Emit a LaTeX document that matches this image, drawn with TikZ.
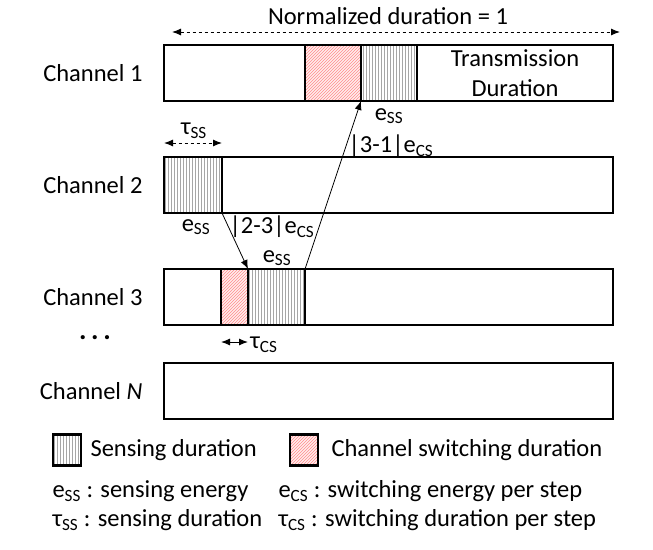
\documentclass[tikz,border=0pt]{standalone}
\usepackage{fontspec}
\setmainfont{Carlito}
\usetikzlibrary{arrows.meta,positioning,patterns}
\newcommand{\chsub}[1]{\textsubscript{#1}}
\tikzset{
  chanbar/.style={draw, line width=2.5pt, rectangle, inner sep=0pt, outer sep=0pt,
    minimum width=449pt, minimum height=56pt, anchor=west},
  sensebox/.style={draw, line width=2.5pt, rectangle, inner sep=0pt, outer sep=0pt,
    minimum height=56pt, anchor=north west, preaction={fill=white},
    pattern=vertical lines, pattern color=gray!70},
  switchbox/.style={draw, line width=2.5pt, rectangle, inner sep=0pt, outer sep=0pt,
    minimum height=56pt, anchor=north west, preaction={fill=red!7},
    pattern=north east lines, pattern color=red!45},
  chanlabel/.style={left=18pt of #1},
  link/.style={->, line width=0.8pt},
  span/.style={<->, line width=1pt}
}

\begin{document}
\begin{tikzpicture}[x=1pt, y=-1pt, >={Latex[length=9pt,width=7pt]},
  font=\fontsize{24.5}{30}\selectfont]
	\useasboundingbox (0,0) rectangle (653,549);
	% channel bars
	\node [chanbar] (ch1) at (164,73) {};
	\node [chanbar] (ch2) at (164,185) {};
	\node [chanbar] (ch3) at (164,297) {};
	\node [chanbar] (chN) at (164,391) {};
	\node [chanlabel=ch1] (lab1) {Channel 1};
	\node [chanlabel=ch2] (lab2) {Channel 2};
	\node [chanlabel=ch3] (lab3) {Channel 3};
	\node [chanlabel=chN] (labN) {Channel \textit{N}};
	\node (dots) at (95,338) {\bfseries\fontsize{28}{28}\selectfont.\,.\,.};
	
	% sensing and switching slots
	\node [switchbox, minimum width=56pt] (sw1) at (305,45) {};
	\node [sensebox, minimum width=56pt] (se1) at (361,45) {};
	\node [sensebox, minimum width=58pt] (se2) at (164,157) {};
	\node [switchbox, minimum width=27pt] (sw3) at (221,269) {};
	\node [sensebox, minimum width=57pt] (se3) at (248,269) {};
	\node [align=center] (tx1) at (515,73) {Transmission\\Duration};
	
	% durations
	\node (norm) at (388,16) {Normalized duration = 1};
	\draw [span, dashed] ([shift={(8pt,41pt)}]ch1.west) -- ([shift={(7pt,41pt)}]ch1.east);
	\node (tss) at (194,131) {τ\chsub{SS}};
	\draw [span, dashed] ([yshift=14pt]se2.north west) -- ([yshift=14pt]se2.north east);
	\node (tcs) at (264,345) {τ\chsub{CS}};
	\draw [span] ([yshift=-17pt]sw3.south west) -- ([yshift=-17pt]sw3.south east);
	
	% energies and switching path
	\node (ess1) at (389,116) {e\chsub{SS}};
	\node (cs31) at (391,146) {|3-1|e\chsub{CS}};
	\node (ess2) at (196,227) {e\chsub{SS}};
	\node (cs23) at (272,227) {|2-3|e\chsub{CS}};
	\node (ess3) at (277,258) {e\chsub{SS}};
	\draw [link] (se2.south east) -- (sw3.north east);
	\draw [link] (se3.north east) -- (sw1.south east);
	
	% legend
	\node [sensebox, minimum width=28pt, minimum height=31pt, anchor=center] (legS) at (67,450) {};
	\node [right=6pt of legS] (legStx) {Sensing duration};
	\node [switchbox, minimum width=28pt, minimum height=31pt, anchor=center] (legW) at (304,450) {};
	\node [right=10pt of legW] (legWtx) {Channel switching duration};
	\node [anchor=west] (essdef) at (49,491) {e\chsub{SS} : sensing energy};
	\node [anchor=west] (tssdef) at (49,520) {τ\chsub{SS} : sensing duration};
	\node [anchor=west] (ecsdef) at (275,491) {e\chsub{CS} : switching energy per step};
	\node [anchor=west] (tcsdef) at (275,520) {τ\chsub{CS} : switching duration per step};
\end{tikzpicture}
\end{document}
